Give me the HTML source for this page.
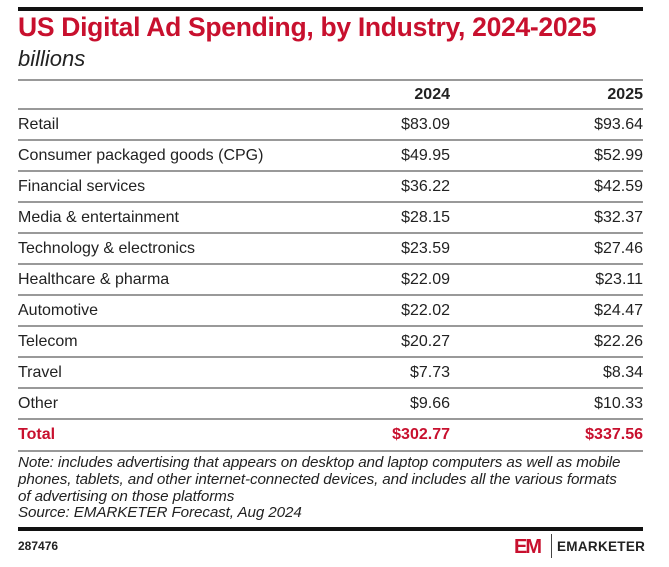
<!DOCTYPE html>
<html><head><meta charset="utf-8"><style>
body{margin:0;width:669px;height:567px;background:#fff;position:relative;overflow:hidden;font-family:"Liberation Sans",sans-serif;color:#222}
.a{position:absolute}
.ln{position:absolute;left:18px;width:625px;height:2px;background:#999}
.r{position:absolute;left:18px;width:625px;height:31px;font-size:16px;line-height:31px}
.r span{position:absolute;top:0}
.c1{right:193px}.c2{right:0}
</style></head><body>
<div class="a" style="left:18px;top:7px;width:625px;height:4px;background:#111"></div>
<div class="a" style="left:18px;top:12px;font-size:26.5px;font-weight:bold;color:#c8102e;letter-spacing:-0.3px;white-space:nowrap">US Digital Ad Spending, by Industry, 2024-2025</div>
<div class="a" style="left:18px;top:46px;font-size:22px;font-style:italic;color:#222">billions</div>
<div class="ln" style="top:79px"></div>
<div class="r" style="top:79px;font-weight:bold"><span class="c1">2024</span><span class="c2">2025</span></div>
<div class="ln" style="top:108px"></div>
<div class="r" style="top:109px"><span>Retail</span><span class="c1">$83.09</span><span class="c2">$93.64</span></div>
<div class="ln" style="top:139px"></div>
<div class="r" style="top:140px"><span>Consumer packaged goods (CPG)</span><span class="c1">$49.95</span><span class="c2">$52.99</span></div>
<div class="ln" style="top:170px"></div>
<div class="r" style="top:171px"><span>Financial services</span><span class="c1">$36.22</span><span class="c2">$42.59</span></div>
<div class="ln" style="top:201px"></div>
<div class="r" style="top:202px"><span>Media &amp; entertainment</span><span class="c1">$28.15</span><span class="c2">$32.37</span></div>
<div class="ln" style="top:232px"></div>
<div class="r" style="top:233px"><span>Technology &amp; electronics</span><span class="c1">$23.59</span><span class="c2">$27.46</span></div>
<div class="ln" style="top:263px"></div>
<div class="r" style="top:264px"><span>Healthcare &amp; pharma</span><span class="c1">$22.09</span><span class="c2">$23.11</span></div>
<div class="ln" style="top:294px"></div>
<div class="r" style="top:295px"><span>Automotive</span><span class="c1">$22.02</span><span class="c2">$24.47</span></div>
<div class="ln" style="top:325px"></div>
<div class="r" style="top:326px"><span>Telecom</span><span class="c1">$20.27</span><span class="c2">$22.26</span></div>
<div class="ln" style="top:356px"></div>
<div class="r" style="top:357px"><span>Travel</span><span class="c1">$7.73</span><span class="c2">$8.34</span></div>
<div class="ln" style="top:387px"></div>
<div class="r" style="top:388px"><span>Other</span><span class="c1">$9.66</span><span class="c2">$10.33</span></div>
<div class="ln" style="top:418px"></div>
<div class="r" style="top:419px;font-weight:bold;color:#c8102e"><span>Total</span><span class="c1">$302.77</span><span class="c2">$337.56</span></div>
<div class="ln" style="top:450px"></div>
<div class="a" style="left:18px;top:455px;width:660px;font-size:15.2px;font-style:italic;line-height:16.8px;color:#222;white-space:nowrap;letter-spacing:-0.1px">Note: includes advertising that appears on desktop and laptop computers as well as mobile<br>phones, tablets, and other internet-connected devices, and includes all the various formats<br>of advertising on those platforms<br>Source: EMARKETER Forecast, Aug 2024</div>
<div class="a" style="left:18px;top:527px;width:625px;height:4px;background:#111"></div>
<div class="a" style="left:18px;top:539px;font-size:12px;font-weight:bold">287476</div>
<div class="a" style="left:514px;top:536px;font-size:20px;font-weight:bold;color:#c8102e;letter-spacing:-2px">EM</div>
<div class="a" style="left:551px;top:534px;width:1px;height:24px;background:#444"></div>
<div class="a" style="left:557px;top:539px;font-size:13.5px;font-weight:bold;letter-spacing:0.3px">EMARKETER</div>
</body></html>
